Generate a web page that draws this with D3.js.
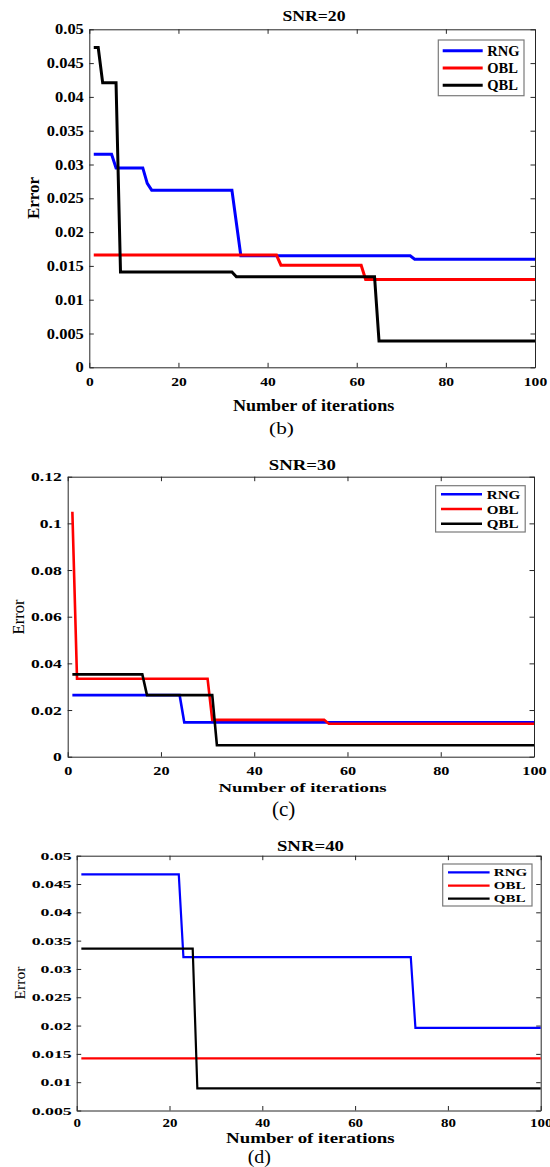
<!DOCTYPE html>
<html><head><meta charset="utf-8">
<script src="https://cdn.jsdelivr.net/npm/d3@7"></script>
<style>html,body{margin:0;padding:0;background:#fff;}svg{display:block;}</style>
</head><body>
<svg id="chart" width="550" height="1167"></svg>
<script>
// ---------- DATA ----------
const seriesNames = ["RNG", "OBL", "QBL"];
const xTickValues = [0, 20, 40, 60, 80, 100];
const xTickLabels = ["0", "20", "40", "60", "80", "100"];

// Panel (b) SNR=20
const yTicksB = [0, 0.005, 0.01, 0.015, 0.02, 0.025, 0.03, 0.035, 0.04, 0.045, 0.05];
const yTickLabelsB = ["0", "0.005", "0.01", "0.015", "0.02", "0.025", "0.03", "0.035", "0.04", "0.045", "0.05"];
const iterB_RNG = [1, 5, 6, 12, 13, 14, 32, 34, 72, 73, 100];
const errB_RNG  = [0.0315, 0.0315, 0.0295, 0.0295, 0.0272, 0.0262, 0.0262, 0.0165, 0.0165, 0.0160, 0.0160];
const iterB_OBL = [1, 42, 43, 61, 62, 100];
const errB_OBL  = [0.0166, 0.0166, 0.0151, 0.0151, 0.0130, 0.0130];
const iterB_QBL = [1, 2, 3, 6, 7, 32, 33, 64, 65, 100];
const errB_QBL  = [0.0473, 0.0473, 0.0421, 0.0421, 0.0141, 0.0141, 0.0134, 0.0134, 0.0039, 0.0039];

// Panel (c) SNR=30
const yTicksC = [0, 0.02, 0.04, 0.06, 0.08, 0.1, 0.12];
const yTickLabelsC = ["0", "0.02", "0.04", "0.06", "0.08", "0.1", "0.12"];
const iterC_RNG = [1, 24, 25, 100];
const errC_RNG  = [0.0264, 0.0264, 0.0147, 0.0147];
const iterC_OBL = [1, 2, 30, 31, 55, 56, 100];
const errC_OBL  = [0.105, 0.0334, 0.0334, 0.0158, 0.0158, 0.0141, 0.0141];
const iterC_QBL = [1, 16, 17, 31, 32, 100];
const errC_QBL  = [0.0353, 0.0353, 0.0264, 0.0264, 0.0049, 0.0049];

// Panel (d) SNR=40
const yTicksD = [0.005, 0.01, 0.015, 0.02, 0.025, 0.03, 0.035, 0.04, 0.045, 0.05];
const yTickLabelsD = ["0.005", "0.01", "0.015", "0.02", "0.025", "0.03", "0.035", "0.04", "0.045", "0.05"];
const iterD_RNG = [1, 22, 23, 72, 73, 100];
const errD_RNG  = [0.0467, 0.0467, 0.0321, 0.0321, 0.0196, 0.0196];
const iterD_OBL = [1, 100];
const errD_OBL  = [0.0142, 0.0142];
const iterD_QBL = [1, 25, 26, 100];
const errD_QBL  = [0.0336, 0.0336, 0.0089, 0.0089];

// ---------- DRAWING ----------
const colors = {RNG: "#0000ff", OBL: "#ff0000", QBL: "#000000"};
const FONT = '"Liberation Serif","Times New Roman",serif';
const svg = d3.select("#chart");

function txt(parent, x, y, s, o) {
  const g = parent.append("g")
    .attr("transform", `translate(${x},${y}) rotate(${o.rot || 0}) scale(${o.sx || 1},${o.sy || 1})`);
  g.append("text")
    .attr("text-anchor", o.anchor || "middle")
    .attr("font-family", FONT)
    .attr("font-weight", o.bold === false ? "normal" : "bold")
    .attr("font-size", o.size)
    .attr("fill", "#000")
    .attr("dy", o.dy || 0)
    .text(s);
}

function panel(cfg) {
  const g = svg.append("g");
  const x = d3.scaleLinear().domain([0, 100]).range([cfg.L, cfg.R]);
  const y = d3.scaleLinear().domain(cfg.yDomain).range([cfg.B, cfg.T]);
  const tk = 4.5;
  const axisColor = "#262626";

  // bottom axis
  const ax = g.append("g").attr("transform", `translate(0,${cfg.B})`)
    .call(d3.axisBottom(x).tickValues(xTickValues).tickFormat((d, i) => xTickLabels[i])
      .tickSizeInner(-tk).tickSizeOuter(0).tickPadding(cfg.xPad));
  ax.selectAll("text").attr("font-family", FONT).attr("font-weight", "bold")
    .attr("font-size", cfg.xt.size).attr("fill", "#000").attr("dy", "0.71em")
    .attr("transform", `scale(${cfg.xt.sx},1)`);
  // top axis
  g.append("g").attr("transform", `translate(0,${cfg.T})`)
    .call(d3.axisTop(x).tickValues(xTickValues).tickFormat("").tickSizeInner(-tk).tickSizeOuter(0));
  // left axis
  const ay = g.append("g").attr("transform", `translate(${cfg.L},0)`)
    .call(d3.axisLeft(y).tickValues(cfg.yTicks).tickFormat((d, i) => cfg.yLabels[i])
      .tickSizeInner(-tk).tickSizeOuter(0).tickPadding(cfg.yPad));
  ay.selectAll("text").attr("font-family", FONT).attr("font-weight", "bold")
    .attr("font-size", cfg.yt.size).attr("fill", "#000")
    .attr("x", -cfg.yPad / cfg.yt.sx).attr("dy", "0.34em")
    .attr("transform", `scale(${cfg.yt.sx},1)`);
  // right axis
  g.append("g").attr("transform", `translate(${cfg.R},0)`)
    .call(d3.axisRight(y).tickValues(cfg.yTicks).tickFormat("").tickSizeInner(-tk).tickSizeOuter(0));
  g.selectAll(".domain, .tick line").attr("stroke", axisColor).attr("stroke-width", 1);

  // lines
  const line = d3.line().x(d => x(d[0])).y(d => y(d[1]));
  cfg.series.forEach(s => {
    const pts = s.iter.map((v, i) => [v, s.err[i]]);
    g.append("path").datum(pts).attr("d", line).attr("fill", "none")
      .attr("stroke", colors[s.name]).attr("stroke-width", cfg.lw)
      .attr("stroke-linejoin", "miter");
  });

  // legend
  const lg = cfg.legend;
  g.append("rect").attr("x", lg.x0).attr("y", lg.y0).attr("width", lg.x1 - lg.x0).attr("height", lg.y1 - lg.y0)
    .attr("fill", "#fff").attr("stroke", "#7a7a7a").attr("stroke-width", 1.2);
  seriesNames.forEach((n, i) => {
    g.append("line").attr("x1", lg.lx0).attr("x2", lg.lx1).attr("y1", lg.rows[i]).attr("y2", lg.rows[i])
      .attr("stroke", colors[n]).attr("stroke-width", cfg.lw);
    txt(g, lg.tx, lg.rows[i], n, {size: lg.size, sx: lg.sx, anchor: "start", dy: "0.35em"});
  });

  // titles
  txt(g, cfg.title.x, cfg.title.y, cfg.title.text, {size: cfg.title.size, sx: cfg.title.sx});
  txt(g, cfg.xl.x, cfg.xl.y, "Number of iterations", {size: cfg.xl.size, sx: cfg.xl.sx});
  txt(g, cfg.yl.x, cfg.yl.y, "Error", {size: cfg.yl.size, rot: -90, bold: cfg.yl.bold});
  txt(g, cfg.cap.x, cfg.cap.y, cfg.cap.text, {size: cfg.cap.size, sx: cfg.cap.sx, bold: false});
}

panel({
  L: 89.3, R: 535, T: 29.3, B: 367.3, yDomain: [0, 0.05],
  yTicks: yTicksB, yLabels: yTickLabelsB, lw: 3,
  xPad: 9.5, yPad: 5.5,
  xt: {size: 13.3, sx: 1.17}, yt: {size: 13.7, sx: 1.2},
  series: [
    {name: "RNG", iter: iterB_RNG, err: errB_RNG},
    {name: "OBL", iter: iterB_OBL, err: errB_OBL},
    {name: "QBL", iter: iterB_QBL, err: errB_QBL}],
  legend: {x0: 438.3, y0: 40, x1: 524, y1: 95.7, lx0: 442.7, lx1: 482.7, tx: 487.3, rows: [50.7, 68, 85.3], size: 14.5, sx: 1.0},
  title: {text: "SNR=20", x: 314, y: 21, size: 14.5, sx: 1.22},
  xl: {x: 313.6, y: 411, size: 16, sx: 1.13},
  yl: {x: 38.5, y: 198, size: 17, bold: true},
  cap: {text: "(b)", x: 281.5, y: 434, size: 16, sx: 1.33}
});

panel({
  L: 67.7, R: 534, T: 476.7, B: 756.7, yDomain: [0, 0.12],
  yTicks: yTicksC, yLabels: yTickLabelsC, lw: 2.6,
  xPad: 9.5, yPad: 6,
  xt: {size: 12.3, sx: 1.32}, yt: {size: 12.3, sx: 1.43},
  series: [
    {name: "RNG", iter: iterC_RNG, err: errC_RNG},
    {name: "OBL", iter: iterC_OBL, err: errC_OBL},
    {name: "QBL", iter: iterC_QBL, err: errC_QBL}],
  legend: {x0: 435.6, y0: 485.7, x1: 525.2, y1: 532, lx0: 441, lx1: 482, tx: 486.8, rows: [494.3, 509, 523.7], size: 13, sx: 1.16},
  title: {text: "SNR=30", x: 302.3, y: 470, size: 14, sx: 1.34},
  xl: {x: 302.6, y: 792, size: 13, sx: 1.45},
  yl: {x: 24, y: 617, size: 16.6, bold: false},
  cap: {text: "(c)", x: 283.6, y: 816, size: 21, sx: 1.0}
});

panel({
  L: 76.7, R: 540.7, T: 855.7, B: 1110.5, yDomain: [0.005, 0.05],
  yTicks: yTicksD, yLabels: yTickLabelsD, lw: 2.2,
  xPad: 8.5, yPad: 5,
  xt: {size: 11.5, sx: 1.3}, yt: {size: 10.3, sx: 1.73},
  series: [
    {name: "RNG", iter: iterD_RNG, err: errD_RNG},
    {name: "OBL", iter: iterD_OBL, err: errD_OBL},
    {name: "QBL", iter: iterD_QBL, err: errD_QBL}],
  legend: {x0: 442.7, y0: 864, x1: 532, y1: 906, lx0: 448, lx1: 489.6, tx: 493.8, rows: [872.3, 885.7, 898.7], size: 10.3, sx: 1.46},
  title: {text: "SNR=40", x: 310.4, y: 850.7, size: 13.7, sx: 1.37},
  xl: {x: 310.4, y: 1142.8, size: 13.6, sx: 1.39},
  yl: {x: 24.5, y: 983, size: 15.6, bold: false},
  cap: {text: "(d)", x: 259.3, y: 1163.3, size: 19, sx: 1.05}
});
</script>
</body></html>
